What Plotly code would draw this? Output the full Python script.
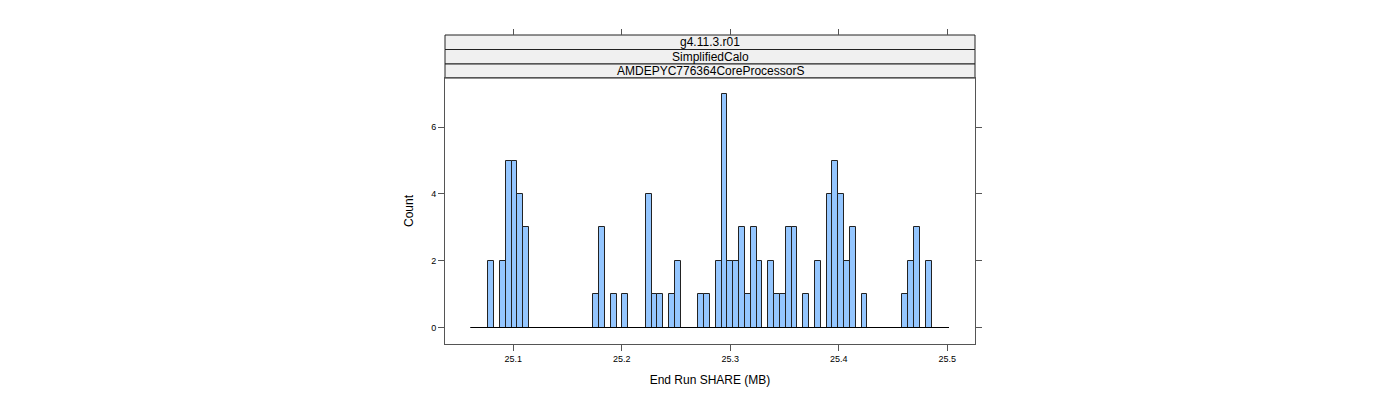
import plotly.graph_objects as go

# ---- data ----
bin_start = 25.0607
bin_width = 0.005376
counts = [0, 0, 0, 2, 0, 2, 5, 5, 4, 3,
          0, 0, 0, 0, 0, 0, 0, 0, 0, 0,
          0, 1, 3, 0, 1, 0, 1, 0, 0, 0,
          4, 1, 1, 0, 1, 2, 0, 0, 0, 1,
          1, 0, 2, 7, 2, 2, 3, 1, 3, 2,
          0, 2, 1, 1, 3, 3, 0, 1, 0, 2,
          0, 4, 5, 4, 2, 3, 0, 1, 0, 0,
          0, 0, 0, 0, 1, 2, 3, 0, 2, 0,
          0, 0]
x_ticks = [25.1, 25.2, 25.3, 25.4, 25.5]
y_ticks = [0, 2, 4, 6]
strip_labels = ["g4.11.3.r01", "SimplifiedCalo", "AMDEPYC776364CoreProcessorS"]
x_title = "End Run SHARE (MB)"
y_title = "Count"

n = len(counts)
centers = [bin_start + (i + 0.5) * bin_width for i in range(n)]
edges_end = bin_start + n * bin_width

FONT = "Liberation Sans, Arial, sans-serif"
BORDER = "#555555"

fig = go.Figure()
fig.add_trace(go.Scatter(x=[bin_start, edges_end], y=[0, 0], mode="lines",
                         line=dict(color="black", width=1), showlegend=False,
                         hoverinfo="skip"))
fig.add_trace(go.Bar(x=centers, y=counts, width=bin_width,
                     marker=dict(color="#94C6FF", line=dict(color="#222222", width=1)),
                     showlegend=False))
# invisible trace for top-axis ticks
fig.add_trace(go.Scatter(x=[x_ticks[0]], y=[0], xaxis="x2", mode="markers",
                         marker=dict(opacity=0), showlegend=False, hoverinfo="skip"))

# page body offset of 8px compensated in margins
OFF = 8
W, H = 1400, 400
left_px, right_px = 445, 975
top_px, bot_px = 35, 344
plot_h = bot_px - top_px
def py(px):
    return (bot_px - px) / plot_h

panel_top = py(78.0)
bounds = [py(35.0), py(49.5), py(64.0), panel_top]

shapes = []
for i, lab in enumerate(strip_labels):
    y1 = bounds[i]
    y0 = bounds[i + 1]
    shapes.append(dict(type="rect", xref="paper", yref="paper", x0=0, x1=1, y0=y0, y1=y1,
                       fillcolor="#F0F0F0", line=dict(color="#222222", width=1), layer="below"))
annotations = []
for i, lab in enumerate(strip_labels):
    ym = (bounds[i] + bounds[i + 1]) / 2
    annotations.append(dict(text=lab, xref="paper", yref="paper", x=0.5, y=ym,
                            showarrow=False, font=dict(family=FONT, size=12, color="black"),
                            xanchor="center", yanchor="middle"))

fig.update_layout(
    width=W, height=H,
    margin=dict(l=left_px - OFF, r=W - (right_px - OFF), t=top_px - OFF,
                b=H - (bot_px - OFF), pad=0),
    plot_bgcolor="white", paper_bgcolor="white",
    bargap=0,
    xaxis=dict(range=[25.037, 25.5255], tickvals=x_ticks,
               ticktext=[str(v) for v in x_ticks],
               ticks="outside", ticklen=6, tickcolor=BORDER, showline=True,
               linecolor=BORDER, linewidth=1, mirror=True, showgrid=False, zeroline=False,
               tickfont=dict(family=FONT, size=9, color="black"),
               title=dict(text=x_title, font=dict(family=FONT, size=12, color="black"), standoff=12)),
    xaxis2=dict(range=[25.037, 25.5255], overlaying="x", matches="x", side="top",
                anchor="free", position=1, tickvals=x_ticks, ticks="outside", ticklen=6,
                tickcolor=BORDER, showticklabels=False, showline=False, showgrid=False,
                zeroline=False),
    yaxis=dict(range=[-0.494, 7.47], domain=[0, panel_top], tickvals=y_ticks,
               ticks="outside", ticklen=6, tickcolor=BORDER, showline=True,
               linecolor=BORDER, linewidth=1, mirror="ticks", showgrid=False, zeroline=False,
               tickfont=dict(family=FONT, size=9, color="black"),
               title=dict(text=y_title, font=dict(family=FONT, size=12, color="black"), standoff=14)),
    shapes=shapes, annotations=annotations,
)

fig.write_html("out.html")
